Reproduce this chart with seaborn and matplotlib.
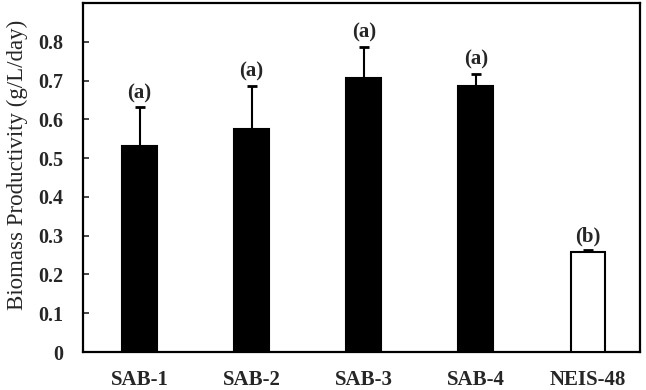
import matplotlib
matplotlib.use("Agg")
import matplotlib.pyplot as plt
import seaborn as sns
import pandas as pd
import numpy as np

categories = ["SAB-1", "SAB-2", "SAB-3", "SAB-4", "NEIS-48"]
values = [0.531, 0.575, 0.706, 0.687, 0.258]
errors = [0.101, 0.112, 0.082, 0.031, 0.004]
letters = ["(a)", "(a)", "(a)", "(a)", "(b)"]
colors = ["black", "black", "black", "black", "white"]
ytick_vals = [0, 0.1, 0.2, 0.3, 0.4, 0.5, 0.6, 0.7, 0.8]
ytick_labels = ["0", "0.1", "0.2", "0.3", "0.4", "0.5", "0.6", "0.7", "0.8"]

sns.set_theme(style="white")
plt.rcParams['font.family'] = ['Liberation Serif', 'DejaVu Serif']

df = pd.DataFrame({"strain": categories, "value": values})

fig, ax = plt.subplots(figsize=(6.46, 3.90), dpi=100)
fig.subplots_adjust(left=0.1285, right=0.9907, top=0.992, bottom=0.0974)

sns.barplot(data=df, x="strain", y="value", hue="strain", palette=colors,
            legend=False, errorbar=None, width=0.31, edgecolor="black",
            linewidth=1.5, ax=ax, zorder=3)

xpos = np.arange(len(categories))
ax.errorbar(xpos, values, yerr=[np.zeros(len(errors)), errors], fmt="none",
            ecolor="black", elinewidth=1.5, capsize=3.5, capthick=2.0, zorder=2)

for x, v, e, lab in zip(xpos, values, errors, letters):
    ax.text(x, v + e + 0.01, lab, ha="center", va="bottom",
            fontsize=15, fontweight="bold")

ax.set_ylim(0, 0.9)
ax.set_xlim(-0.504, 4.464)
ax.set_yticks(ytick_vals)
ax.set_yticklabels(ytick_labels, fontsize=14.5, fontweight="bold")
ax.set_xticks(xpos)
ax.set_xticklabels(categories, fontsize=15, fontweight="bold")
ax.set_xlabel("")
ax.set_ylabel("Biomass Productivity (g/L/day)", fontsize=16.5)
ax.yaxis.set_label_coords(-0.099, 0.536)
ax.tick_params(axis="y", direction="in", length=4, width=1.2, left=True, pad=14)
ax.tick_params(axis="x", length=0, pad=13)
for s in ax.spines.values():
    s.set_visible(True)
    s.set_color("black")
    s.set_linewidth(1.6)

fig.savefig("out.png", dpi=100)
